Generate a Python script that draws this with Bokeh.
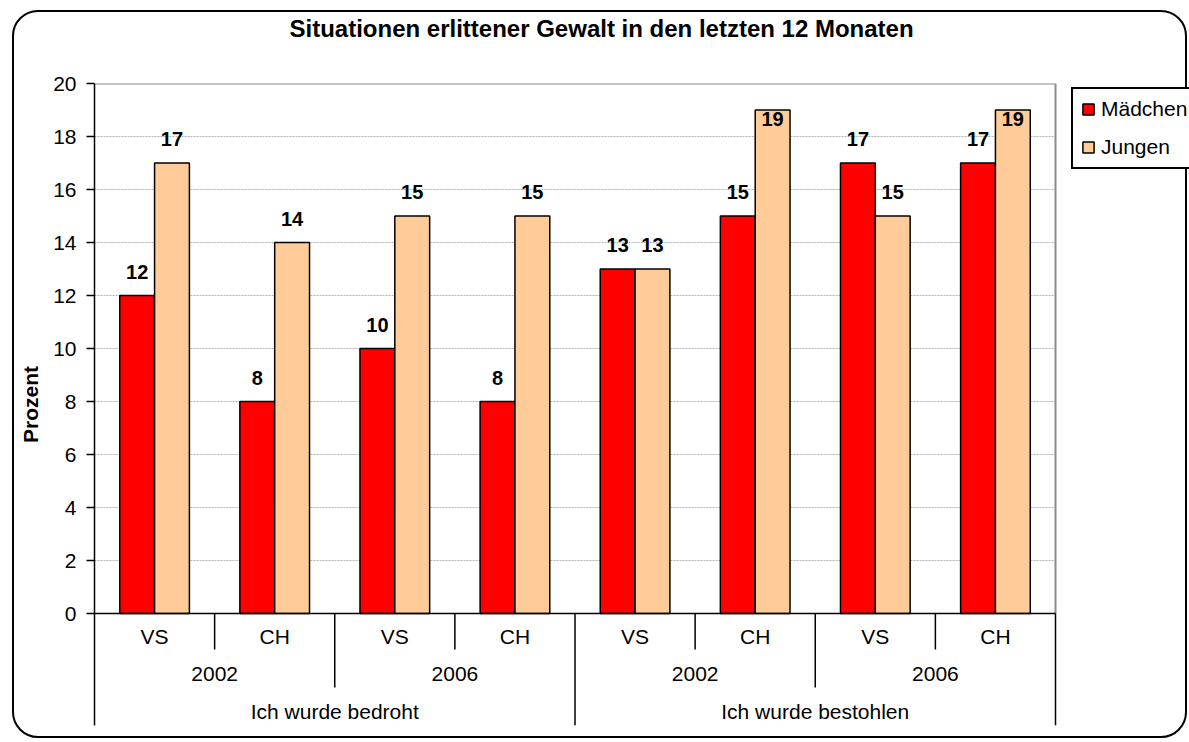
from bokeh.plotting import figure
from bokeh.models import Range1d, FixedTicker, ColumnDataSource, Title
from bokeh.core.properties import value
from bokeh.embed import file_html
from bokeh.resources import INLINE

# ---------------- data ----------------
chart_title = "Situationen erlittener Gewalt in den letzten 12 Monaten"
situations = ["Ich wurde bedroht", "Ich wurde bestohlen"]
years = ["2002", "2006"]
regions = ["VS", "CH"]
maedchen = [12, 8, 10, 8, 13, 15, 17, 17]
jungen = [17, 14, 15, 15, 13, 19, 15, 19]
y_ticks = [0, 2, 4, 6, 8, 10, 12, 14, 16, 18, 20]
y_label = "Prozent"
series_names = ["Mädchen", "Jungen"]

# ---------------- styling constants ----------------
FONT = "Liberation Sans"
RED = "#FF0000"
PEACH = "#FFCC99"
BAR_W = 0.29
Y_MAX = 20
PX_PER_UNIT_Y = 26.5
FRAME_H = 642
Y_MIN = Y_MAX - FRAME_H / PX_PER_UNIT_Y
PX_PER_CAT = 961 / 8          # plot-area width per category
FRAME_W = 1095                # frame also covers the legend strip

factors = [(s, y, r) for s in situations for y in years for r in regions]
n = len(factors)
centers = [i + 0.5 for i in range(n)]
n_years = len(situations) * len(years)
per_year = n // n_years
per_sit = n // len(situations)

def label_offsets(vals):
    return [-24 if v + 1.4 < Y_MAX else 9 for v in vals]

src = ColumnDataSource(dict(
    xm=[c - BAR_W / 2 for c in centers], xj=[c + BAR_W / 2 for c in centers],
    m=maedchen, j=jungen,
    ml=[str(v) for v in maedchen], jl=[str(v) for v in jungen],
    mo=label_offsets(maedchen), jo=label_offsets(jungen),
))

p = figure(
    x_range=Range1d(0, FRAME_W / PX_PER_CAT),
    y_range=Range1d(Y_MIN, Y_MAX),
    width=1175, height=728,
    min_border_left=80, min_border_right=0, min_border_top=71, min_border_bottom=15,
    output_backend="svg", toolbar_location=None,
    background_fill_color="white", background_fill_alpha=0,
    border_fill_color="white", border_fill_alpha=0,
)
p.outline_line_color = None
p.styles = {"border": "2px solid black", "border-radius": "26px",
            "margin-left": "12px", "margin-top": "10px"}

# title (outermost) plus a blank spacer title between it and the frame
p.title.text = chart_title
p.title.align = "left"
p.title.offset = 195
p.title.standoff = 0
p.title.text_font = FONT
p.title.text_font_size = "24px"
p.title.text_font_style = "bold"
p.title.text_color = "black"
p.title.vertical_align = "bottom"
spacer = Title(text=" ", text_font_size="10px", standoff=29)
p.add_layout(spacer, "above")

# axes
p.xaxis.visible = False
p.xgrid.visible = False
p.ygrid.visible = False
ax = p.yaxis[0]
ax.ticker = FixedTicker(ticks=y_ticks)
ax.axis_line_color = "black"
ax.axis_line_width = 1.5
ax.major_tick_line_color = "black"
ax.major_tick_line_width = 1.5
ax.major_tick_out = 8
ax.major_tick_in = 0
ax.minor_tick_line_color = None
ax.major_label_standoff = 10
ax.major_label_text_font = FONT
ax.major_label_text_font_size = "21px"
ax.major_label_text_color = "black"
ax.axis_label = y_label
ax.axis_label_text_font = FONT
ax.axis_label_text_font_size = "21px"
ax.axis_label_text_font_style = "bold"
ax.axis_label_text_color = "black"
ax.axis_label_standoff = 8

# horizontal grid lines limited to the plot area
grid_y = [t for t in y_ticks if 0 < t < Y_MAX]
p.segment(x0=[0] * len(grid_y), y0=grid_y, x1=[n] * len(grid_y), y1=grid_y,
          line_color="#b4b4b4", line_dash="2 1", line_width=1)

# bars
p.vbar(x="xm", top="m", bottom=0, width=BAR_W, source=src,
       fill_color=RED, line_color="black", line_width=1.5,
       legend_label=series_names[0])
p.vbar(x="xj", top="j", bottom=0, width=BAR_W, source=src,
       fill_color=PEACH, line_color="black", line_width=1.5,
       legend_label=series_names[1])

# value labels
for xcol, col, lab, off in (("xm", "m", "ml", "mo"), ("xj", "j", "jl", "jo")):
    p.text(x=xcol, y=col, text=lab, y_offset=off, source=src,
           text_align="center", text_baseline="middle",
           text_font=value(FONT), text_font_size="20px", text_font_style="bold",
           text_color="black")

# plot area border (top & right, gray) and category axis line
p.segment(x0=[0, n], y0=[Y_MAX, 0], x1=[n, n], y1=[Y_MAX, Y_MAX],
          line_color="#8c8c8c", line_width=2)
p.segment(x0=[0], y0=[0], x1=[n], y1=[0], line_color="black", line_width=1.5)

# multi-level category separators
lvl1_bottom = -1.36
lvl2_bottom = -2.79
sep_x, sep_y = [], []
for i in range(1, n + 1):
    sep_x.append(i)
    if i % per_sit == 0:
        sep_y.append(Y_MIN)
    elif i % per_year == 0:
        sep_y.append(lvl2_bottom)
    else:
        sep_y.append(lvl1_bottom)
p.segment(x0=sep_x, y0=[0] * len(sep_x), x1=sep_x, y1=sep_y,
          line_color="black", line_width=1.5)

# category labels (three levels)
lvl_style = dict(text_align="center", text_baseline="middle",
                 text_font=value(FONT), text_font_size="21px", text_color="black")
p.text(x=centers, y=[-0.87] * n, text=[f[2] for f in factors], **lvl_style)
year_x = [per_year * k + per_year / 2 for k in range(n_years)]
year_t = [y for s in situations for y in years]
p.text(x=year_x, y=[-2.30] * n_years, text=year_t, **lvl_style)
sit_x = [per_sit * k + per_sit / 2 for k in range(len(situations))]
p.text(x=sit_x, y=[-3.68] * len(situations), text=situations, **lvl_style)

# legend (inside the frame strip to the right of the plot area)
lg = p.legend[0]
lg.location = (977, 556)
lg.label_text_font = FONT
lg.label_text_font_size = "21px"
lg.label_text_color = "black"
lg.glyph_width = 14
lg.glyph_height = 14
lg.label_standoff = 6
lg.label_width = 110
lg.padding = 8
lg.spacing = 14
lg.margin = 0
lg.border_line_color = "black"
lg.border_line_alpha = 1
lg.border_line_width = 2
lg.background_fill_color = "white"
lg.background_fill_alpha = 1

with open("out.html", "w") as f:
    f.write(file_html(p, INLINE))
